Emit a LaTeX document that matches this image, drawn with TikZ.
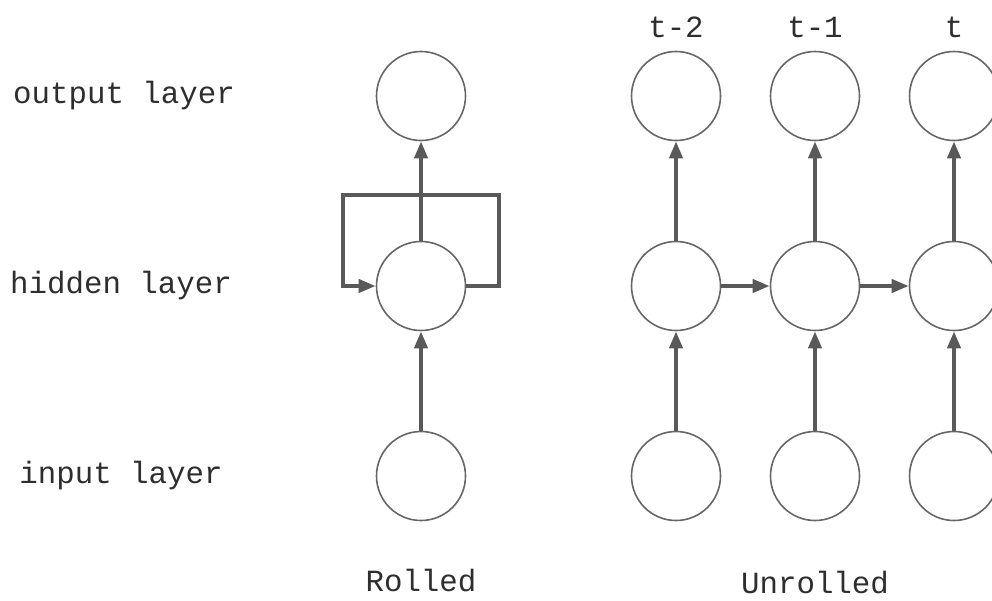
\documentclass[tikz,border=0pt]{standalone}
\usepackage{fontspec}
\setmonofont{Liberation Mono}
\usetikzlibrary{arrows.meta}
\begin{document}
\begin{tikzpicture}[x=1pt,y=-1pt,
  unit/.style={circle,draw=black!60,line width=1.6pt,minimum size=89pt,inner sep=0pt},
  lbl/.style={font=\ttfamily\fontsize{30.8}{36}\selectfont,text=black!82},
  flow/.style={draw=black!65,line width=4pt,-{Triangle[length=17pt,width=13pt]}},
  loopline/.style={draw=black!65,line width=4pt}]
\useasboundingbox (0,0) rectangle (992,600);
% row labels
\node[lbl] (lout) at (124,96) {output layer};
\node[lbl] (lhid) at (121,286) {hidden layer};
\node[lbl] (lin)  at (121,476) {input layer};
% rolled network
\node[unit] (ro) at (421,96) {};
\node[unit] (rh) at (421,286) {};
\node[unit] (ri) at (421,476) {};
\coordinate (c1) at (499,286);
\coordinate (c2) at (499,195);
\coordinate (c3) at (343,195);
\coordinate (c4) at (343,286);
\draw[loopline] (rh.east) -- (c1) -- (c2) -- (c3) -- (c4);
\draw[flow,shorten <=-2pt] (c4) -- (rh.west);
\draw[flow] (rh.north) -- (ro.south);
\draw[flow] (ri.north) -- (rh.south);
\node[lbl] (rlab) at (421,581) {Rolled};
% unrolled network
\foreach \n/\x/\t in {a/676/t-2,b/815/t-1,c/954/t}{
  \node[unit] (o\n) at (\x,96) {};
  \node[unit] (h\n) at (\x,286) {};
  \node[unit] (i\n) at (\x,476) {};
  \node[lbl] (t\n) at (\x,27) {\t};
  \draw[flow] (h\n.north) -- (o\n.south);
  \draw[flow] (i\n.north) -- (h\n.south);
}
\draw[flow] (ha.east) -- (hb.west);
\draw[flow] (hb.east) -- (hc.west);
\node[lbl,inner sep=0pt] (ulab) at (815,583) {Unrolled};
\end{tikzpicture}
\end{document}
